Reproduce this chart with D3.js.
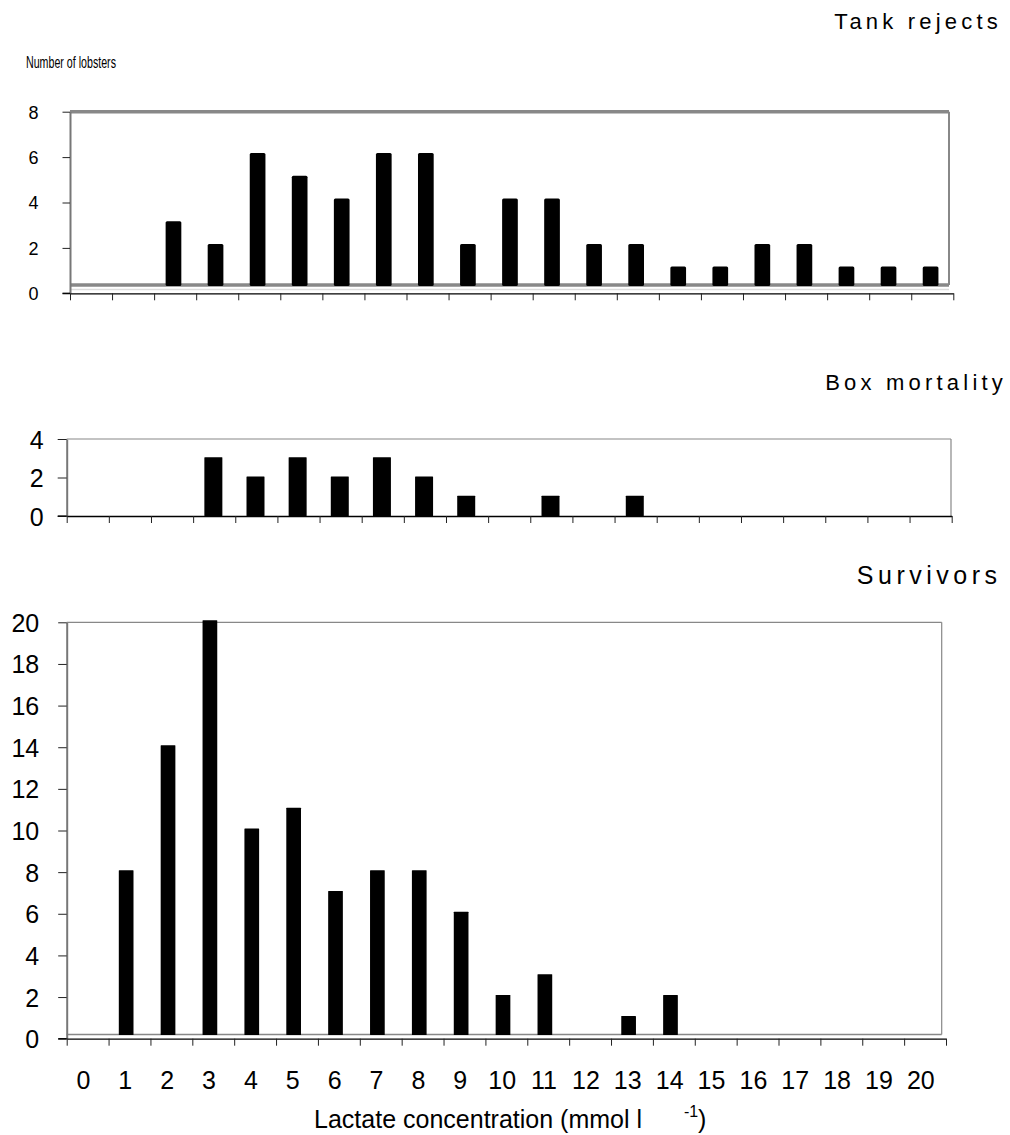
<!DOCTYPE html>
<html><head><meta charset="utf-8">
<script src="https://cdn.jsdelivr.net/npm/d3@7"></script>
<style>body{margin:0;background:#fff}svg text{font-family:"Liberation Sans",Arial,sans-serif;fill:#000}</style>
</head><body><svg id="c" width="1010" height="1135"></svg>
<script>
// ---- data ----
const categories = d3.range(0, 21); // lactate bins (mmol l-1)
const xTickLabels = categories.map(String);
const tankRejects  = [0,0,3,2,6,5,4,6,6,2,4,4,2,2,1,1,2,2,1,1,1];
const boxMortality = [0,0,0,3,2,3,2,3,2,1,0,1,0,1,0,0,0,0,0,0,0];
const survivors    = [0,8,14,20,10,11,7,8,8,6,2,3,0,1,2,0,0,0,0,0,0];
const tankTicks = [0,2,4,6,8];
const boxTicks  = [0,2,4];
const survTicks = [0,2,4,6,8,10,12,14,16,18,20];
const titles = ["Tank rejects", "Box mortality", "Survivors"];

const svg = d3.select("#c");

function panel(o) {
  const g = svg.append("g");
  const x = d3.scaleLinear().domain([0, categories.length]).range([o.left, o.right]);
  const y = d3.scaleLinear().domain([0, o.max]).range([o.y0, o.top]);
  const fr = o.frameRight;
  // frame top & right
  g.append("line").attr("x1", o.left).attr("x2", fr).attr("y1", y(o.max)).attr("y2", y(o.max))
    .attr("stroke", "#888").attr("stroke-width", o.frameW);
  g.append("line").attr("x1", fr).attr("x2", fr).attr("y1", y(o.max)).attr("y2", o.floor)
    .attr("stroke", "#888").attr("stroke-width", o.rightW);
  if (o.floorW) {
    g.append("line").attr("x1", o.left).attr("x2", fr).attr("y1", o.floor).attr("y2", o.floor)
      .attr("stroke", "#888").attr("stroke-width", o.floorW);
    if (o.floorLight) g.append("line").attr("x1", o.left).attr("x2", fr).attr("y1", o.floorLight).attr("y2", o.floorLight)
      .attr("stroke", "#ddd").attr("stroke-width", 1.5);
  }
  // bars
  g.selectAll("rect.bar").data(o.values.map((v, i) => ({v, i})).filter(d => d.v > 0))
    .enter().append("rect").attr("class", "bar")
    .attr("x", d => x(d.i + o.cf) - o.barW / 2)
    .attr("width", o.barW)
    .attr("y", d => y(d.v) - o.lift)
    .attr("height", d => o.barBottom - (y(d.v) - o.lift))
    .attr("rx", o.rx).attr("fill", "#000");
  // y axis
  const ya = g.append("g").attr("transform", `translate(${o.left},0)`)
    .call(d3.axisLeft(y).tickValues(o.ticks).tickFormat(d3.format("d"))
      .tickSize(o.yTick).tickSizeOuter(0).tickPadding(o.yPad));
  ya.select(".domain").attr("stroke", "#777").attr("stroke-width", 2);
  ya.selectAll(".tick line").attr("stroke", "#222");
  ya.selectAll(".tick text").attr("font-size", o.yFont).attr("font-family", o.yFamily)
    .attr("fill", "#000").attr("dy", "0.36em");
  // x axis
  const xa = g.append("g").attr("transform", `translate(0,${o.y0})`)
    .call(d3.axisBottom(x).tickValues(d3.range(categories.length + 1)).tickSize(7).tickSizeOuter(0).tickFormat(""));
  xa.select(".domain").attr("stroke", "#000").attr("stroke-width", 1.3);
  xa.selectAll(".tick line").attr("stroke", "#222");
  g.append("line").attr("x1", o.left - o.yTick).attr("x2", o.left).attr("y1", o.y0).attr("y2", o.y0).attr("stroke", "#000").attr("stroke-width", 1.3);
  // title
  g.append("text").attr("x", o.titleX).attr("y", o.titleY).attr("text-anchor", "end")
    .attr("font-size", o.titleSize).attr("letter-spacing", o.titleLs + "px").text(o.title);
  return {x, y, g};
}

panel({values: tankRejects, max: 8, ticks: tankTicks, left: 70, right: 953.3, frameRight: 949,
  top: 111.7, y0: 293.3, floor: 285, floorW: 3.5, floorLight: 289.5, frameW: 3.5, rightW: 2,
  barW: 15.7, barBottom: 286, lift: 4, rx: 1.5, cf: 0.46,
  yTick: 7.5, yPad: 24, yFont: 18, yFamily: '"Liberation Sans Narrow","Liberation Sans",sans-serif',
  title: titles[0], titleX: 1002, titleY: 29, titleSize: 22, titleLs: 4.2});

panel({values: boxMortality, max: 4, ticks: boxTicks, left: 66.7, right: 951.7, frameRight: 951,
  top: 439, y0: 516, floor: 516, floorW: 0, frameW: 1.2, rightW: 1.2,
  barW: 18, barBottom: 516, lift: 1, rx: 0.5, cf: 0.48,
  yTick: 9, yPad: 14, yFont: 25, yFamily: '"Liberation Sans",Arial,sans-serif',
  title: titles[1], titleX: 1007, titleY: 390, titleSize: 22, titleLs: 4.2});

const bot = panel({values: survivors, max: 20, ticks: survTicks, left: 66.7, right: 946, frameRight: 941.7,
  top: 622.3, y0: 1038.7, floor: 1034.5, floorW: 1.5, frameW: 1.2, rightW: 1.2,
  barW: 14.7, barBottom: 1035, lift: 2, rx: 0.5, cf: 0.42,
  yTick: 8.5, yPad: 19, yFont: 25, yFamily: '"Liberation Sans",Arial,sans-serif',
  title: titles[2], titleX: 1001.5, titleY: 584, titleSize: 25, titleLs: 4.5});

// x tick labels (bottom panel)
bot.g.selectAll("text.xl").data(categories).enter().append("text").attr("class", "xl")
  .attr("x", d => bot.x(d + 0.4)).attr("y", 1089).attr("text-anchor", "middle")
  .attr("font-size", 25).text(d => xTickLabels[d]);

// y label top
svg.append("text").attr("x", 26).attr("y", 68)
  .attr("font-family", '"Liberation Sans Narrow","Liberation Sans",sans-serif')
  .attr("font-size", 17).attr("textLength", 90).attr("lengthAdjust", "spacingAndGlyphs")
  .text("Number of lobsters");

// x axis title
svg.append("text").attr("x", 642).attr("y", 1128).attr("text-anchor", "end")
  .attr("font-size", 25).text("Lactate concentration (mmol l");
svg.append("text").attr("x", 684).attr("y", 1117).attr("font-size", 16).text("-1");
svg.append("text").attr("x", 698).attr("y", 1128).attr("font-size", 25).text(")");
</script></body></html>
